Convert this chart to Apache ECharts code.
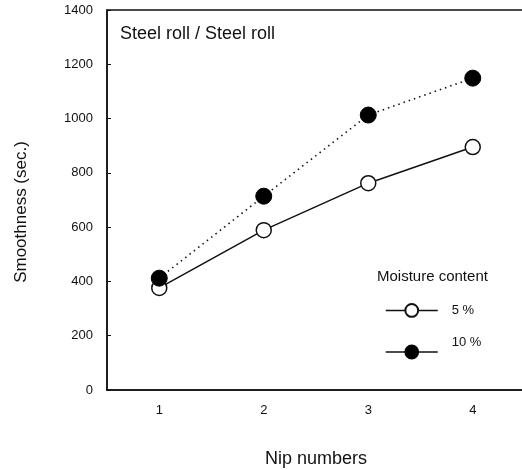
<!DOCTYPE html>
<html>
<head>
<meta charset="utf-8">
<script src="https://cdn.jsdelivr.net/npm/echarts@6/dist/echarts.min.js"></script>
<style>
html,body{margin:0;padding:0;background:#fff;}
#chart{width:522px;height:470px;}
</style>
</head>
<body>
<div id="chart"></div>
<script>
const categories = ['1', '2', '3', '4'];
const yTicks = [0, 200, 400, 600, 800, 1000, 1200, 1400];
const moisture5 = [376, 589, 762, 895];
const moisture10 = [412, 714, 1013, 1149];
const seriesNames = ['5 %', '10 %'];
const panelLabel = 'Steel roll / Steel roll';
const legendTitle = 'Moisture content';

const font = 'Liberation Sans, Arial, sans-serif';
const chart = echarts.init(document.getElementById('chart'));
chart.setOption({
  animation: false,
  backgroundColor: '#fff',
  grid: {
    left: 107, top: 10, width: 418, height: 380,
    outerBoundsMode: 'none', containLabel: false,
    show: true, borderColor: '#111', borderWidth: 1.5, backgroundColor: 'transparent'
  },
  title: [
    { text: panelLabel, left: 115, top: 20, textStyle: { fontFamily: font, fontSize: 18, fontWeight: 'normal', color: '#111' } },
    { text: legendTitle, left: 372, top: 264, textStyle: { fontFamily: font, fontSize: 15, fontWeight: 'normal', color: '#111' } }
  ],
  legend: [
    {
      data: [{ name: seriesNames[0], lineStyle: { type: 'solid', width: 1.5, color: '#111' } }],
      left: 380, top: 298, itemWidth: 52, itemHeight: 16, itemGap: 14,
      textStyle: { fontFamily: font, fontSize: 13, color: '#111', padding: [0, 0, 0, 9] }
    },
    {
      data: [{ name: seriesNames[1], lineStyle: { type: 'solid', width: 1.5, color: '#111' } }],
      left: 380, top: 327, itemWidth: 52, itemHeight: 16, itemGap: 14,
      formatter: n => n + '\n ',
      textStyle: { fontFamily: font, fontSize: 13, lineHeight: 20, color: '#111', padding: [0, 0, 0, 9] }
    }
  ],
  xAxis: {
    type: 'category',
    data: categories,
    boundaryGap: true,
    name: 'Nip numbers',
    nameLocation: 'middle',
    nameGap: 60,
    nameTextStyle: { fontFamily: font, fontSize: 18, color: '#111' },
    axisLine: { lineStyle: { color: '#111', width: 1.5 } },
    axisTick: { inside: true, length: 4, lineStyle: { color: '#111' } },
    axisLabel: { fontFamily: font, fontSize: 13, color: '#111', margin: 14 },
    splitLine: { show: false }
  },
  yAxis: {
    type: 'value',
    min: 0, max: 1400, interval: 200,
    name: 'Smoothness (sec.)',
    nameLocation: 'middle',
    nameGap: 77,
    nameTextStyle: { fontFamily: font, fontSize: 17, color: '#111', padding: [0, 24, 0, 0] },
    axisLine: { show: true, lineStyle: { color: '#111', width: 1.5 } },
    axisTick: { show: true, inside: true, length: 4, lineStyle: { color: '#111' } },
    axisLabel: { fontFamily: font, fontSize: 13, color: '#111', margin: 14,
      formatter: v => yTicks.indexOf(v) >= 0 ? String(v) : '' },
    splitLine: { show: false }
  },
  series: [
    {
      name: seriesNames[0], type: 'line', data: moisture5,
      symbol: 'circle', symbolSize: 15, z: 3,
      lineStyle: { color: '#111', width: 1.5, type: 'solid' },
      itemStyle: { color: '#fff', borderColor: '#111', borderWidth: 1.5 }
    },
    {
      name: seriesNames[1], type: 'line', data: moisture10,
      symbol: 'circle', symbolSize: 16, z: 4,
      lineStyle: { color: '#111', width: 1.6, type: [1.5, 4] },
      itemStyle: { color: '#000', borderColor: '#000', borderWidth: 1 }
    }
  ]
});
</script>
</body>
</html>
